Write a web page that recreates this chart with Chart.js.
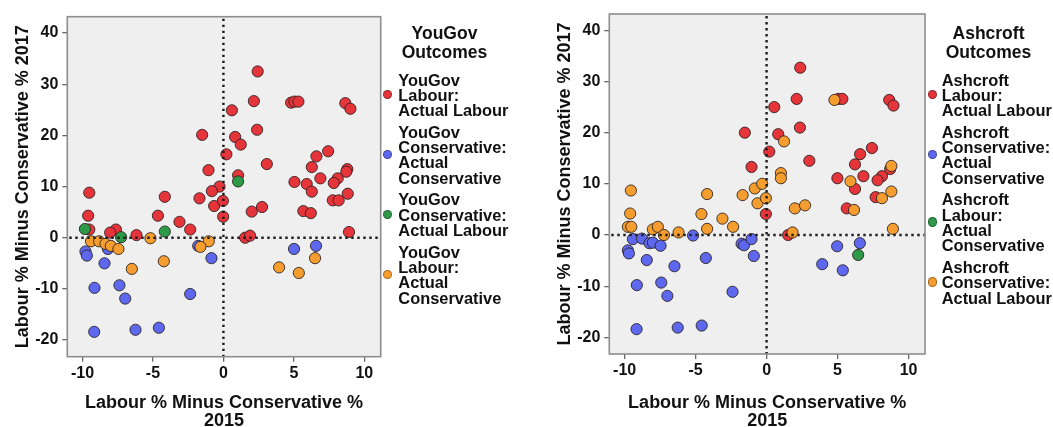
<!DOCTYPE html>
<html><head><meta charset="utf-8">
<script src="https://cdn.jsdelivr.net/npm/chart.js@4.4.1/dist/chart.umd.min.js"></script>
<style>
html,body{margin:0;padding:0;background:#fff;width:1053px;height:427px;overflow:hidden;position:relative;font-family:"Liberation Sans",Arial,sans-serif;}
canvas{position:absolute;top:0;}
.lgTitle{position:absolute;top:24px;width:130px;text-align:center;font-weight:bold;font-size:17.5px;line-height:18.5px;color:#111;white-space:nowrap;}
.lg{position:absolute;top:72.5px;font-weight:bold;font-size:16.4px;line-height:15.3px;color:#111;white-space:nowrap;}
.item{position:relative;margin-bottom:6.4px;}
.mk{position:absolute;width:9.5px;height:9.5px;border-radius:50%;top:50%;margin-top:-5.5px;box-sizing:border-box;border:1px solid rgba(0,0,0,0.35);}
</style></head>
<body>
<canvas id="c1" width="382" height="427" style="left:0px"></canvas>
<canvas id="c2" width="385" height="427" style="left:542px"></canvas>
<div class="lgTitle" id="t1" style="left:379.5px"></div>
<div class="lg" id="l1" style="left:398.3px"></div>
<div class="lgTitle" id="t2" style="left:923.5px"></div>
<div class="lg" id="l2" style="left:941.7px"></div>
<script>
// ---------- data ----------
const xTicks = [-10, -5, 0, 5, 10];
const yTicks = [-20, -10, 0, 10, 20, 30, 40];
const xAxisTitle = ['Labour % Minus Conservative %', '2015'];
const yAxisTitle = 'Labour % Minus Conservative % 2017';

const yougovTitle = ['YouGov', 'Outcomes'];
const yougovSeries = [
  ['YouGov', 'Labour:', 'Actual Labour'],
  ['YouGov', 'Conservative:', 'Actual', 'Conservative'],
  ['YouGov', 'Conservative:', 'Actual Labour'],
  ['YouGov', 'Labour:', 'Actual', 'Conservative']
];
const ashcroftTitle = ['Ashcroft', 'Outcomes'];
const ashcroftSeries = [
  ['Ashcroft', 'Labour:', 'Actual Labour'],
  ['Ashcroft', 'Conservative:', 'Actual', 'Conservative'],
  ['Ashcroft', 'Labour:', 'Actual', 'Conservative'],
  ['Ashcroft', 'Conservative:', 'Actual Labour']
];

// YouGov: Labour -> Actual Labour
const ygLabLabX = [2.43,2.16,0.60,4.80,5.04,5.32,8.65,9.01,-1.51,2.39,0.83,1.23,0.21,7.43,6.60,3.08,6.27,-1.06,8.79,8.72,1.04,5.04,6.88,8.11,7.83,5.91,6.27,8.82,-9.52,-4.16,-0.28,-0.82,-1.70,-0.66,-0.04,7.76,8.18,-0.02,2.01,2.74,5.67,6.20,-9.60,-4.65,-3.12,-2.36,-7.63,-8.04,-9.52,-6.17,1.54,1.89,8.91];
const ygLabLabY = [32.5,26.7,24.9,26.4,26.6,26.6,26.3,25.2,20.1,21.1,19.7,18.2,16.3,16.9,15.9,14.4,13.8,13.2,13.4,12.9,12.2,10.9,11.6,11.6,10.7,10.5,9.0,8.6,8.8,8.0,10.0,9.1,7.7,6.2,7.2,7.3,7.3,4.1,5.1,6.0,5.2,4.8,4.3,4.3,3.1,1.6,1.6,1.0,1.6,0.5,0.0,0.4,1.1];
// YouGov: Conservative -> Actual Conservative
const ygConConX = [-9.79,-9.69,-8.20,-8.44,-9.15,-7.38,-6.97,-9.17,-6.24,-4.58,-2.36,-0.85,-1.79,5.01,6.57];
const ygConConY = [-2.7,-3.5,-2.2,-5.0,-9.8,-9.3,-11.9,-18.4,-18.0,-17.6,-11.0,-4.0,-1.6,-2.2,-1.6];
// YouGov: Conservative -> Actual Labour
const ygConLabX = [-9.83,-7.26,-4.16,1.04];
const ygConLabY = [1.7,0.1,1.2,11.0];
// YouGov: Labour -> Actual Conservative
const ygLabConX = [-9.40,-8.82,-8.37,-7.99,-7.45,-5.18,-4.23,-6.50,-1.04,-1.63,3.95,5.35,6.50];
const ygLabConY = [-0.7,-0.7,-1.2,-1.6,-2.2,-0.1,-4.6,-6.1,-0.7,-1.8,-5.8,-6.9,-4.0];

// Ashcroft: Labour -> Actual Labour
const acLabLabX = [2.37,2.12,0.54,5.06,5.34,8.64,8.94,-1.53,2.35,0.82,0.19,7.42,6.59,3.01,6.23,-1.06,8.71,4.99,6.82,8.13,7.82,6.23,7.68,5.65,-0.05,1.52];
const acLabLabY = [32.7,26.6,25.0,26.6,26.6,26.4,25.3,20.0,21.0,19.7,16.3,17.0,15.8,14.5,13.8,13.3,12.9,11.1,11.5,11.5,10.7,9.0,7.4,5.2,4.1,0.0];
// Ashcroft: Conservative -> Actual Conservative
const acConConX = [-9.42,-8.78,-8.25,-8.01,-7.47,-9.77,-9.70,-8.44,-6.49,-9.14,-7.42,-6.99,-9.16,-6.26,-4.57,-2.40,-4.28,-5.18,-1.76,-1.59,-1.06,-0.90,3.92,4.97,5.37,6.57];
const acConConY = [-0.8,-0.7,-1.6,-1.5,-2.1,-3.0,-3.6,-4.9,-6.1,-9.8,-9.3,-11.9,-18.4,-18.1,-17.7,-11.1,-4.5,-0.1,-1.7,-2.0,-0.8,-4.1,-5.7,-2.2,-6.9,-1.6];
// Ashcroft: Labour -> Actual Conservative
const acLabConX = [6.45];
const acLabConY = [-3.9];
// Ashcroft: Conservative -> Actual Labour
const acConLabX = [4.78,1.23,1.01,1.01,8.79,5.91,8.79,8.13,-9.56,-4.19,-1.69,-0.83,-0.31,-0.64,-0.05,1.99,2.71,6.16,-9.61,-9.77,-9.53,-8.01,-7.66,-7.23,-6.20,-4.59,-4.19,-3.11,-2.36,1.83,8.90];
const acConLabY = [26.4,18.3,12.1,11.1,13.5,10.5,8.5,7.2,8.7,8.0,7.8,9.1,10.0,6.2,7.2,5.2,5.8,4.9,4.2,1.6,1.6,1.1,1.6,0.0,0.5,4.1,1.2,3.2,1.6,0.5,1.2];

// ---------- styles ----------
const RED = '#e6343b', BLUE = '#5d68ef', GREEN = '#2e9a48', ORANGE = '#f59d2e';
const FAMILY = '"Liberation Sans", Arial, sans-serif';

function pts(xs, ys) { return xs.map((x, i) => ({ x: x, y: ys[i] })); }

const panelPlugin = {
  id: 'panel',
  beforeDraw(chart) {
    const { ctx, chartArea: a } = chart;
    ctx.save();
    ctx.fillStyle = '#efefef';
    ctx.fillRect(a.left, a.top, a.right - a.left, a.bottom - a.top);
    ctx.restore();
  },
  afterDatasetsDraw(chart) {
    const { ctx, chartArea: a, scales } = chart;
    const x0 = scales.x.getPixelForValue(0), y0 = scales.y.getPixelForValue(0);
    ctx.save();
    ctx.strokeStyle = '#1c1c1c';
    ctx.lineWidth = 2.4;
    ctx.setLineDash([2.4, 3.6]);
    ctx.beginPath();
    ctx.moveTo(x0, a.top + 2); ctx.lineTo(x0, a.bottom);
    ctx.moveTo(a.left + 2, y0); ctx.lineTo(a.right, y0);
    ctx.stroke();
    ctx.setLineDash([]);
    ctx.strokeStyle = '#8e8e8e';
    ctx.lineWidth = 1.6;
    ctx.strokeRect(a.left, a.top, a.right - a.left, a.bottom - a.top);
    ctx.restore();
  }
};

function makeChart(id, datasets, pad, yW, xH) {
  const tickFont = { family: FAMILY, size: 16, weight: 'bold' };
  const titleFont = { family: FAMILY, size: 18, weight: 'bold', lineHeight: 1 };
  return new Chart(document.getElementById(id), {
    type: 'scatter',
    data: { datasets: datasets },
    options: {
      responsive: false, animation: false,
      layout: { padding: pad, autoPadding: false },
      plugins: { legend: { display: false }, tooltip: { enabled: false } },
      scales: {
        x: {
          type: 'linear', min: -11.08, max: 11.16,
          afterBuildTicks: s => { s.ticks = xTicks.map(v => ({ value: v })); },
          afterFit: s => { s.height = xH; s.paddingLeft = 0; s.paddingRight = 0; },
          grid: { drawOnChartArea: false, drawTicks: true, tickLength: 5, color: '#666', lineWidth: 1.3 },
          border: { display: false },
          ticks: { font: tickFont, color: '#111', padding: 2, maxRotation: 0, autoSkip: false },
          title: { display: true, text: xAxisTitle, font: titleFont, color: '#111', padding: { top: 0, bottom: -3 } }
        },
        y: {
          type: 'linear', min: -23.26, max: 43.2,
          afterBuildTicks: s => { s.ticks = yTicks.map(v => ({ value: v })); },
          afterFit: s => { s.width = yW; s.paddingTop = 0; s.paddingBottom = 0; },
          grid: { drawOnChartArea: false, drawTicks: true, tickLength: 5, color: '#666', lineWidth: 1.3 },
          border: { display: false },
          ticks: { font: tickFont, color: '#111', padding: 4, autoSkip: false },
          title: { display: true, text: yAxisTitle, font: titleFont, color: '#111', padding: { top: 14, bottom: 0 } }
        }
      }
    },
    plugins: [panelPlugin]
  });
}

function ds(label, xs, ys, color, order) {
  return {
    label: label.join(' '), data: pts(xs, ys), order: order,
    backgroundColor: color, borderColor: 'rgba(40,30,30,0.85)', borderWidth: 1,
    pointRadius: 5.6, pointHoverRadius: 5.6
  };
}

makeChart('c1', [
  ds(yougovSeries[0], ygLabLabX, ygLabLabY, RED, 3),
  ds(yougovSeries[1], ygConConX, ygConConY, BLUE, 2),
  ds(yougovSeries[2], ygConLabX, ygConLabY, GREEN, 1),
  ds(yougovSeries[3], ygLabConX, ygLabConY, ORANGE, 0)
], { top: 16.7, right: 1.3, bottom: 0, left: 0 }, 67.3, 70.3);

makeChart('c2', [
  ds(ashcroftSeries[0], acLabLabX, acLabLabY, RED, 3),
  ds(ashcroftSeries[1], acConConX, acConConY, BLUE, 2),
  ds(ashcroftSeries[2], acLabConX, acLabConY, GREEN, 1),
  ds(ashcroftSeries[3], acConLabX, acConLabY, ORANGE, 0)
], { top: 14, right: 2, bottom: 0, left: 0 }, 67.3, 73);

function buildLegend(titleId, listId, title, series, colors, mkLeft) {
  const t = document.getElementById(titleId);
  title.forEach((line, i) => { if (i) t.appendChild(document.createElement('br')); t.appendChild(document.createTextNode(line)); });
  const l = document.getElementById(listId);
  series.forEach((lines, k) => {
    const it = document.createElement('div'); it.className = 'item';
    const mk = document.createElement('span'); mk.className = 'mk';
    mk.style.background = colors[k]; mk.style.left = mkLeft + 'px';
    it.appendChild(mk);
    lines.forEach((line, i) => { if (i) it.appendChild(document.createElement('br')); it.appendChild(document.createTextNode(line)); });
    l.appendChild(it);
  });
}
buildLegend('t1', 'l1', yougovTitle, yougovSeries, [RED, BLUE, GREEN, ORANGE], -15.8);
buildLegend('t2', 'l2', ashcroftTitle, ashcroftSeries, [RED, BLUE, GREEN, ORANGE], -13.8);
</script>
</body></html>
